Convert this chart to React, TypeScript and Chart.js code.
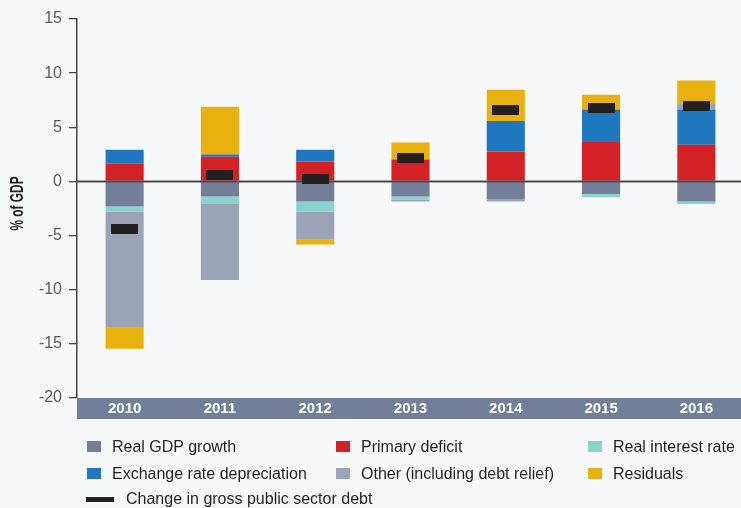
import React, { useEffect, useRef } from 'react';
import { Chart, registerables } from 'chart.js';

Chart.register(...registerables);

const years = ['2010', '2011', '2012', '2013', '2014', '2015', '2016'];
const realGdpGrowth = [-2.31, -1.39, -1.85, -1.39, -1.63, -1.17, -1.85];
const primaryDeficit = [1.63, 2.28, 1.85, 2.03, 2.77, 3.63, 3.39];
const realInterestRate = [-0.46, -0.7, -0.92, -0.27, 0, -0.28, -0.24];
const exchangeRateDepreciation = [1.3, 0.21, 1.08, 0, 2.8, 3.02, 3.26];
const otherIncludingDebtRelief = [-10.74, -7.02, -2.62, -0.2, -0.22, 0, 0.49];
const residuals = [-1.95, 4.41, -0.43, 1.57, 2.9, 1.35, 2.19];
const changeInGrossDebt = [-4.42, 0.55, 0.18, 2.12, 6.56, 6.74, 6.93];
const yMin = -20;
const yMax = 15;
const yStep = 5;
const yTitle = '% of GDP';

const seriesNames = [
  'Real GDP growth',
  'Primary deficit',
  'Real interest rate',
  'Exchange rate depreciation',
  'Other (including debt relief)',
  'Residuals',
];
const seriesColors = ['#737f98', '#d42126', '#89d3cf', '#1f77bf', '#9ba3b7', '#e8b10d'];
const debtName = 'Change in gross public sector debt';
const debtColor = '#231f1f';

const FONT = "'Liberation Sans', Arial, sans-serif";
const BG = '#f7f8fa';
const BAND = '#737f98';

export default function App() {
  const ref = useRef<HTMLCanvasElement | null>(null);

  useEffect(() => {
    document.body.style.margin = '0';
    document.body.style.background = BG;
    const canvas = ref.current;
    if (!canvas) return;

    const marker = document.createElement('canvas');
    marker.width = 27;
    marker.height = 10;
    const mctx = marker.getContext('2d');
    if (mctx) {
      mctx.fillStyle = debtColor;
      mctx.fillRect(0, 0, 27, 10);
    }

    const bgPlugin = {
      id: 'bgBand',
      beforeDraw(chart: any) {
        const { ctx, chartArea, width, height } = chart;
        ctx.save();
        ctx.fillStyle = BG;
        ctx.fillRect(0, 0, width, height);
        ctx.fillStyle = BAND;
        ctx.fillRect(chartArea.left, chartArea.bottom, width - chartArea.left, 21);
        ctx.restore();
      },
      afterDraw(chart: any) {
        const { ctx, chartArea } = chart;
        ctx.save();
        ctx.translate(18, (chartArea.top + chartArea.bottom) / 2 - 5);
        ctx.rotate(-Math.PI / 2);
        ctx.scale(0.66, 1);
        ctx.font = `bold 18px ${FONT}`;
        ctx.fillStyle = '#231f20';
        ctx.textAlign = 'center';
        ctx.textBaseline = 'middle';
        ctx.fillText(yTitle, 0, 0);
        ctx.restore();
      },
    };

    const zeroPlugin = {
      id: 'zeroLine',
      afterDatasetDraw(chart: any, args: any) {
        if (args.index !== 0) return;
        const { ctx, chartArea, scales } = chart;
        const y = scales.y.getPixelForValue(0);
        ctx.save();
        ctx.strokeStyle = '#4a4a4a';
        ctx.lineWidth = 2;
        ctx.beginPath();
        ctx.moveTo(chartArea.left, y);
        ctx.lineTo(chartArea.right, y);
        ctx.stroke();
        ctx.restore();
      },
    };

    const seriesData = [
      realGdpGrowth,
      primaryDeficit,
      realInterestRate,
      exchangeRateDepreciation,
      otherIncludingDebtRelief,
      residuals,
    ];

    const datasets: any[] = seriesData.map((d, i) => ({
      type: 'bar',
      label: seriesNames[i],
      data: d,
      backgroundColor: seriesColors[i],
      borderWidth: 0,
      stack: 'components',
      order: 0,
      categoryPercentage: 1,
      barPercentage: 0.4,
    }));
    datasets.push({
      type: 'line',
      label: debtName,
      data: changeInGrossDebt,
      showLine: false,
      pointStyle: marker,
      pointRadius: 5,
      pointHoverRadius: 5,
      backgroundColor: debtColor,
      borderColor: debtColor,
      stack: 'debt',
      order: -1,
    });

    const chart = new Chart(canvas, {
      type: 'bar',
      data: { labels: years, datasets },
      options: {
        animation: false,
        responsive: false,
        maintainAspectRatio: false,
        layout: { padding: { top: 19, bottom: 89, left: 0, right: 0 } },
        plugins: {
          legend: { display: false },
          tooltip: { enabled: false },
        },
        scales: {
          x: {
            stacked: true,
            grid: { display: false, drawTicks: false },
            border: { display: false },
            ticks: {
              color: '#ffffff',
              font: { family: FONT, size: 15, weight: 'bold' },
              padding: 2,
              autoSkip: false,
              maxRotation: 0,
            },
            afterFit(scale: any) {
              scale.height = 21;
            },
          },
          y: {
            stacked: true,
            min: yMin,
            max: yMax,
            ticks: {
              stepSize: yStep,
              color: '#58595b',
              padding: 7,
              font: { family: FONT, size: 16 },
              callback: (v: any) => String(v),
            },
            grid: {
              drawOnChartArea: false,
              drawTicks: true,
              tickLength: 8,
              color: '#444444',
              lineWidth: 1.3,
            },
            border: { display: true, color: '#444444', width: 1.5 },
            afterFit(scale: any) {
              scale.width = 77;
            },
          },
        },
      },
      plugins: [bgPlugin, zeroPlugin],
    } as any);

    return () => chart.destroy();
  }, []);

  const legendRows = [
    [0, 1, 2],
    [3, 4, 5],
  ];
  const colX = [87, 336, 588];
  const rowY = [447, 473.5];

  return (
    <div
      style={{
        position: 'relative',
        width: 741,
        height: 508,
        overflow: 'hidden',
        background: BG,
        fontFamily: FONT,
      }}
    >
      <canvas ref={ref} width={750} height={508} style={{ position: 'absolute', left: 0, top: 0, width: 750, height: 508 }} />
      {legendRows.map((row, r) =>
        row.map((si, c) => (
          <div key={`${r}-${c}`}>
            <div
              style={{
                position: 'absolute',
                left: colX[c],
                top: rowY[r] - 6,
                width: 14,
                height: 11,
                background: seriesColors[si],
              }}
            />
            <div
              style={{
                position: 'absolute',
                left: colX[c] + 25,
                top: rowY[r] - 10,
                height: 20,
                lineHeight: '20px',
                fontSize: 16,
                color: '#231f20',
                whiteSpace: 'nowrap',
              }}
            >
              {seriesNames[si]}
            </div>
          </div>
        ))
      )}
      <div
        style={{
          position: 'absolute',
          left: 86,
          top: 497,
          width: 28,
          height: 5,
          background: debtColor,
        }}
      />
      <div
        style={{
          position: 'absolute',
          left: 126,
          top: 489,
          height: 20,
          lineHeight: '20px',
          fontSize: 16,
          color: '#231f20',
          whiteSpace: 'nowrap',
        }}
      >
        {debtName}
      </div>
    </div>
  );
}
